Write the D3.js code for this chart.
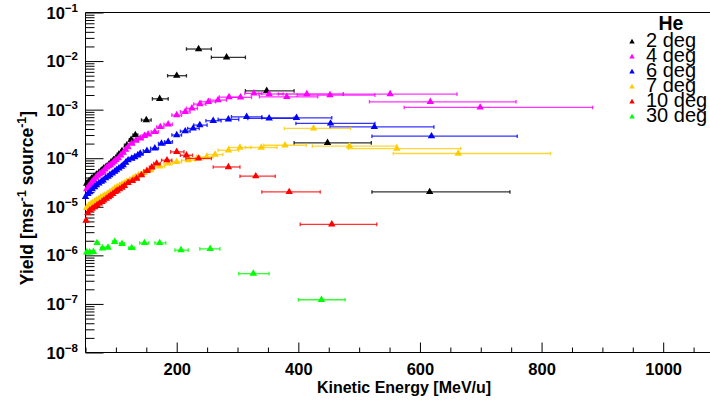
<!DOCTYPE html>
<html>
<head>
<meta charset="utf-8">
<script src="https://cdn.jsdelivr.net/npm/d3@7"></script>
<style>
  body { margin: 0; background: #fff; }
  svg { display: block; font-family: "Liberation Sans", Arial, Helvetica, sans-serif; }
</style>
</head>
<body>
<svg id="chart" width="710" height="402"></svg>
<script>
// each row: [kinetic energy, bin low, bin high, yield]
const deg2 = [
  [52,50,54,3.0e-5],[56,54,58,3.4e-5],[60,58,62,3.8e-5],[64,62,66,4.2e-5],[68,66,70,4.6e-5],
  [72,70,74,5.0e-5],[76,74,78,5.6e-5],[80,78,82,6.2e-5],[84,82,86,6.7e-5],[88,86,90,7.3e-5],
  [92,90,94,8.2e-5],[96,94,98,9.2e-5],[100,98,102,1.0e-4],[105,102,108,1.2e-4],[110,108,112,1.4e-4],
  [118,114,122,1.85e-4],[125,122,128,2.4e-4],[132,128,136,3.0e-4],[150,142,158,6.1e-4],
  [172,160,186,1.67e-3],[200,185,216,5.0e-3],[236,216,257,1.77e-2],[282,257,313,1.19e-2],
  [348,313,393,2.44e-3],[448,393,520,2.07e-4],[616,521,748,2.02e-5]
];
const deg4 = [
  [52,50,54,2.3e-5],[55,53,57,2.6e-5],[58,56,60,2.9e-5],[61,59,63,3.3e-5],[64,62,66,3.6e-5],
  [67,65,69,4.0e-5],[70,68,72,4.4e-5],[73,71,75,4.7e-5],[76,74,78,5.0e-5],[79,77,81,5.3e-5],
  [82,80,84,5.9e-5],[85,83,87,6.5e-5],[88,86,90,6.9e-5],[91,89,93,7.2e-5],[94,92,96,7.8e-5],
  [97,95,99,8.5e-5],[100,98,102,9.3e-5],[104,102,106,1.0e-4],[108,106,110,1.15e-4],[112,110,114,1.3e-4],
  [116,114,118,1.5e-4],[120,118,122,1.7e-4],[126,122,130,2.0e-4],[133,130,137,2.3e-4],[140,135,145,2.55e-4],
  [147,143,151,2.9e-4],[153,148,158,3.1e-4],[164,158,170,3.5e-4],[173,167,179,4.4e-4],[186,179,193,5.0e-4],
  [200,192,208,7.7e-4],[214,206,222,9.0e-4],[225,216,234,1.06e-3],[238,228,248,1.3e-3],[252,240,264,1.45e-3],
  [268,255,282,1.57e-3],[286,270,303,1.81e-3],[305,288,323,1.79e-3],[327,312,340,2.16e-3],[352,335,375,2.1e-3],
  [381,336,432,1.84e-3],[414,367,474,2.1e-3],[452,398,526,1.99e-3],[551,474,661,2.09e-3],
  [617,517,758,1.45e-3],[699,574,884,1.11e-3]
];
const deg6 = [
  [50,49,52,1.6e-5],[54,52,56,1.85e-5],[57,55,59,2.0e-5],[61,59,63,2.3e-5],[65,63,67,2.55e-5],
  [68,66,70,2.8e-5],[72,70,74,3.05e-5],[76,74,78,3.3e-5],[79,77,81,3.5e-5],[83,81,85,3.9e-5],
  [87,85,89,4.2e-5],[90,88,92,4.5e-5],[94,92,96,4.9e-5],[98,96,100,5.3e-5],[101,99,103,5.7e-5],
  [105,103,107,6.2e-5],[109,107,111,6.7e-5],[112,110,114,7.2e-5],[116,114,118,8.1e-5],[120,118,122,9.1e-5],
  [126,122,130,9.8e-5],[131,128,134,1.06e-4],[136,133,139,1.15e-4],[140,136,145,1.25e-4],[151,145,157,1.42e-4],
  [164,157,170,1.6e-4],[175,170,181,2.0e-4],[186,180,193,2.17e-4],[200,192,208,3.0e-4],[214,206,222,3.6e-4],
  [227,218,237,4.1e-4],[238,228,250,4.8e-4],[260,248,273,5.9e-4],[285,268,302,6.3e-4],[315,290,340,7.1e-4],
  [352,317,393,6.6e-4],[397,340,455,6.8e-4],[453,396,526,5.2e-4],[525,452,623,4.4e-4],[619,521,760,2.84e-4]
];
const deg7 = [
  [52,50,54,9.5e-6],[55,53,57,1.05e-5],[58,56,60,1.12e-5],[61,59,63,1.2e-5],[65,63,67,1.28e-5],
  [68,66,70,1.36e-5],[72,70,74,1.45e-5],[75,73,77,1.55e-5],[79,77,81,1.65e-5],[82,80,84,1.73e-5],
  [86,84,88,1.85e-5],[90,88,92,2.0e-5],[94,92,96,2.15e-5],[98,96,100,2.37e-5],[102,100,104,2.55e-5],
  [106,104,108,2.7e-5],[110,108,112,2.9e-5],[114,112,116,3.05e-5],[118,116,120,3.25e-5],[123,120,126,3.5e-5],
  [128,125,131,3.8e-5],[132,129,135,4.1e-5],[137,133,141,4.45e-5],[146,141,151,5.0e-5],[156,151,162,5.7e-5],
  [172,164,180,6.8e-5],[186,179,193,7.8e-5],[200,192,208,8.4e-5],[219,208,230,9.1e-5],[233,222,244,9.9e-5],
  [249,238,260,1.06e-4],[263,250,276,1.19e-4],[285,268,302,1.46e-4],[304,286,322,1.66e-4],[339,313,365,1.66e-4],
  [378,343,413,1.85e-4],[425,377,486,4.1e-4],[484,423,562,1.77e-4],[562,482,667,1.58e-4],[663,556,815,1.25e-4]
];
const deg10 = [
  [51,49,53,5.2e-6],[54,52,56,7.5e-6],[57,55,59,8.5e-6],[61,59,63,9.2e-6],[65,63,67,9.9e-6],
  [69,67,71,1.08e-5],[73,71,75,1.17e-5],[77,75,79,1.26e-5],[80,78,82,1.35e-5],[84,82,86,1.47e-5],
  [88,86,90,1.59e-5],[91,89,93,1.7e-5],[95,93,97,1.85e-5],[99,97,101,2.02e-5],[102,100,104,2.15e-5],
  [106,104,108,2.3e-5],[110,108,112,2.49e-5],[114,112,116,2.7e-5],[120,117,123,3.1e-5],[127,123,131,3.4e-5],
  [134,130,138,3.8e-5],[142,138,146,4.5e-5],[151,146,156,5.5e-5],[159,155,163,6.5e-5],[167,162,173,7.8e-5],
  [184,175,192,9.1e-5],[200,190,212,1.35e-4],[216,206,226,1.15e-4],[236,215,257,9.9e-5],[285,260,304,6.6e-5],
  [330,304,362,4.26e-5],[385,340,436,2.02e-5],[455,403,529,4.35e-6]
];
const deg30 = [
  [52,50,54,1.15e-6],[57,55,59,1.15e-6],[63,61,65,1.18e-6],[69,67,72,1.8e-6],[78,75,81,1.4e-6],
  [87,84,90,1.45e-6],[98,95,101,1.9e-6],[110,106,114,1.72e-6],[126,121,131,1.42e-6],[147,139,154,1.8e-6],
  [172,164,182,1.8e-6],[207,197,219,1.28e-6],[255,238,271,1.36e-6],[326,302,352,4.2e-7],[438,400,477,1.22e-7]
];

const seriesNames = ["2 deg", "4 deg", "6 deg", "7 deg", "10 deg", "30 deg"];
const seriesColors = ["#000000", "#ff00ff", "#0000ff", "#ffcc00", "#ff0000", "#00ff00"];
const seriesData = [deg2, deg4, deg6, deg7, deg10, deg30];

const xMajorTicks = [200, 400, 600, 800, 1000];
const yDecades = [-8, -7, -6, -5, -4, -3, -2, -1];

const svg = d3.select("#chart");

const x = d3.scaleLinear().domain([50, 1100]).range([85.5, 724]);
const y = d3.scaleLog().domain([1e-8, 1e-1]).range([352.5, 12.5]);

// frame
svg.append("line").attr("x1", 85.5).attr("x2", 85.5).attr("y1", 12.5).attr("y2", 352.5).attr("stroke", "#000");
svg.append("line").attr("x1", 85.5).attr("x2", 710).attr("y1", 352.5).attr("y2", 352.5).attr("stroke", "#000");
svg.append("line").attr("x1", 85.5).attr("x2", 710).attr("y1", 12.5).attr("y2", 12.5).attr("stroke", "#000");

// x axis: minor ticks every 50, labelled majors every 200
const xMinor = d3.range(50, 1101, 50).filter(v => !xMajorTicks.includes(v));
svg.append("g")
  .attr("transform", "translate(0,352.5)")
  .call(d3.axisBottom(x).tickValues(xMinor).tickSizeInner(-5).tickSizeOuter(0).tickFormat(""))
  .call(g => g.select(".domain").remove());

svg.append("g")
  .attr("transform", "translate(0,352.5)")
  .call(d3.axisBottom(x).tickValues(xMajorTicks).tickSizeInner(-10).tickSizeOuter(0).tickPadding(11).tickFormat(d3.format("d")))
  .call(g => g.select(".domain").remove())
  .call(g => g.selectAll("text")
    .attr("fill", "#000")
    .attr("font-size", "16.5px")
    .attr("font-weight", "bold")
    .attr("font-family", "Liberation Sans, Arial, sans-serif"));

// y axis: log ticks, ticks point into the frame
const yMinor = [];
yDecades.slice(0, -1).forEach(p => {
  for (let k = 2; k <= 9; k++) yMinor.push(k * Math.pow(10, p));
});
const yMajor = yDecades.map(p => Math.pow(10, p));

svg.append("g")
  .attr("transform", "translate(85.5,0)")
  .call(d3.axisLeft(y).tickValues(yMinor).tickSizeInner(-9).tickSizeOuter(0).tickFormat(""))
  .call(g => g.select(".domain").remove());

svg.append("g")
  .attr("transform", "translate(85.5,0)")
  .call(d3.axisLeft(y).tickValues(yMajor).tickSizeInner(-18).tickSizeOuter(0).tickFormat(""))
  .call(g => g.select(".domain").remove());

const yLabels = svg.append("g")
  .selectAll("text")
  .data(yDecades)
  .enter()
  .append("text")
  .attr("x", 78)
  .attr("y", d => y(Math.pow(10, d)) + 6)
  .attr("text-anchor", "end")
  .attr("font-weight", "bold")
  .attr("font-size", "16.5px");
yLabels.append("tspan").text("10");
yLabels.append("tspan").attr("dy", -7).attr("font-size", "11.5px").text(d => "\u2212" + (-d));

// axis titles
svg.append("text")
  .attr("x", 404)
  .attr("y", 393)
  .attr("text-anchor", "middle")
  .attr("font-weight", "bold")
  .attr("font-size", "16px")
  .text("Kinetic Energy [MeV/u]");

const yTitle = svg.append("text")
  .attr("transform", "translate(33,198) rotate(-90)")
  .attr("text-anchor", "middle")
  .attr("font-weight", "bold")
  .attr("font-size", "17.5px");
yTitle.append("tspan").text("Yield [msr");
yTitle.append("tspan").attr("dy", -7).attr("font-size", "12.5px").text("-1");
yTitle.append("tspan").attr("dy", 7).text(" source");
yTitle.append("tspan").attr("dy", -7).attr("font-size", "12.5px").text("-1");
yTitle.append("tspan").attr("dy", 7).text("]");

// data: horizontal bin bars + triangle markers
const tri = d3.symbol().type(d3.symbolTriangle).size(24);

seriesData.forEach((data, i) => {
  const color = seriesColors[i];
  const g = svg.append("g").attr("class", "series");

  g.selectAll("line.bar")
    .data(data)
    .enter()
    .append("line")
    .attr("class", "bar")
    .attr("x1", d => x(d[1]))
    .attr("x2", d => x(d[2]))
    .attr("y1", d => y(d[3]))
    .attr("y2", d => y(d[3]))
    .attr("stroke", color)
    .attr("stroke-width", 1.3)
    .attr("stroke-opacity", 0.8);

  g.selectAll("path.cap")
    .data(data)
    .enter()
    .append("path")
    .attr("class", "cap")
    .attr("d", d => `M${x(d[1])},${y(d[3]) - 1.8}v3.6M${x(d[2])},${y(d[3]) - 1.8}v3.6`)
    .attr("stroke", color)
    .attr("stroke-width", 1.3)
    .attr("stroke-opacity", 0.8);

  g.selectAll("path.marker")
    .data(data)
    .enter()
    .append("path")
    .attr("class", "marker")
    .attr("d", tri)
    .attr("transform", d => `translate(${x(d[0])},${y(d[3])})`)
    .attr("fill", color);
});

// legend
svg.append("text")
  .attr("x", 671)
  .attr("y", 30)
  .attr("text-anchor", "middle")
  .attr("font-weight", "bold")
  .attr("font-size", "19.5px")
  .text("He");

const legend = svg.append("g")
  .selectAll("g")
  .data(seriesNames)
  .enter()
  .append("g")
  .attr("transform", (d, i) => `translate(632,${40 + i * 15})`);

legend.append("path")
  .attr("d", d3.symbol().type(d3.symbolTriangle).size(13))
  .attr("transform", "translate(0,2)")
  .attr("fill", (d, i) => seriesColors[i]);

legend.append("text")
  .attr("x", 14)
  .attr("y", 7)
  .attr("font-size", "20px")
  .text(d => d);
</script>
</body>
</html>
